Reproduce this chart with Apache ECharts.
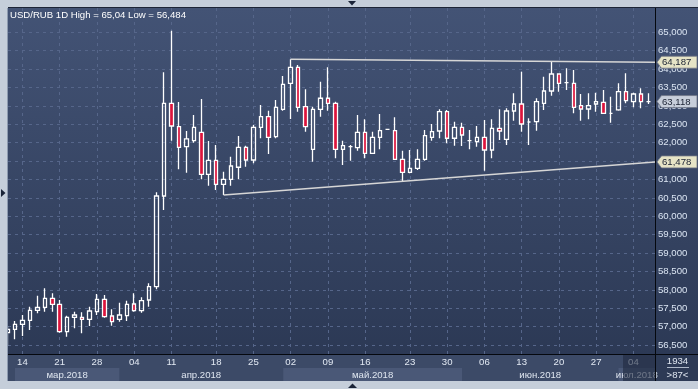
<!DOCTYPE html>
<html><head><meta charset="utf-8">
<script src="https://cdn.jsdelivr.net/npm/echarts@6/dist/echarts.min.js"></script>
<style>html,body{margin:0;padding:0;background:#c5ceda;}#c{width:698px;height:389px;}</style>
</head><body><div id="c"></div>
<script>
// ---------- data ----------
const dates = [
'2018-03-12','2018-03-13','2018-03-14','2018-03-15','2018-03-16','2018-03-19','2018-03-20','2018-03-21','2018-03-22','2018-03-23',
'2018-03-26','2018-03-27','2018-03-28','2018-03-29','2018-03-30','2018-04-02','2018-04-03','2018-04-04','2018-04-05','2018-04-06',
'2018-04-09','2018-04-10','2018-04-11','2018-04-12','2018-04-13','2018-04-15','2018-04-16','2018-04-17','2018-04-18','2018-04-19',
'2018-04-20','2018-04-23','2018-04-24','2018-04-25','2018-04-26','2018-04-27','2018-04-30','2018-05-01','2018-05-02','2018-05-03',
'2018-05-04','2018-05-07','2018-05-08','2018-05-09','2018-05-10','2018-05-11','2018-05-14','2018-05-15','2018-05-16','2018-05-17',
'2018-05-18','2018-05-20','2018-05-21','2018-05-22','2018-05-23','2018-05-24','2018-05-25','2018-05-28','2018-05-29','2018-05-30',
'2018-05-31','2018-06-01','2018-06-04','2018-06-05','2018-06-06','2018-06-07','2018-06-08','2018-06-11','2018-06-12','2018-06-13',
'2018-06-14','2018-06-15','2018-06-18','2018-06-19','2018-06-20','2018-06-21','2018-06-22','2018-06-25','2018-06-26','2018-06-27',
'2018-06-28','2018-06-29','2018-07-02','2018-07-03','2018-07-04','2018-07-05','2018-07-06'];

const openP = [
56.837,56.929,57.065,57.174,57.446,57.527,57.772,57.609,56.864,57.255,
57.255,57.201,57.408,57.745,57.291,57.201,57.299,57.617,57.435,57.726,
58.087,60.552,63.071,62.435,61.891,62.054,62.283,61.141,61.522,60.870,
61.005,61.332,61.875,61.530,62.418,62.707,62.163,62.908,63.614,64.049,
62.978,61.821,62.908,63.207,63.071,61.821,61.891,61.864,62.283,61.712,
62.147,62.364,62.326,61.549,61.196,61.304,61.549,62.147,62.318,62.842,
62.120,62.418,62.054,62.027,62.147,61.802,62.391,62.092,62.861,63.052,
62.562,62.571,63.071,63.405,63.867,63.630,63.614,63.005,62.916,63.052,
63.098,62.799,62.889,63.386,63.114,63.323,63.118];

const closeP = [
56.929,57.065,57.174,57.446,57.527,57.772,57.609,56.864,57.255,57.318,
57.201,57.427,57.745,57.272,57.136,57.318,57.609,57.435,57.707,58.087,
60.552,63.071,62.454,61.875,62.101,62.418,61.141,61.522,60.870,61.005,
61.367,61.875,61.530,62.418,62.707,62.147,62.962,63.587,64.049,62.962,
62.435,62.908,63.207,63.071,61.821,61.918,61.891,62.283,61.712,62.147,
62.326,62.364,61.549,61.196,61.304,61.549,62.190,62.299,62.842,62.120,
62.418,62.209,62.054,62.147,61.802,62.391,62.318,62.861,63.052,62.508,
62.562,63.114,63.405,63.867,63.614,63.630,62.962,62.916,63.005,63.114,
62.799,62.799,63.386,63.141,63.323,63.114,63.118];

const lowP = [
56.484,56.658,56.747,56.910,57.364,57.408,57.408,56.837,56.728,56.957,
56.821,57.019,57.318,57.245,57.027,57.136,57.155,57.408,57.380,57.543,
58.020,60.171,62.054,61.277,61.185,62.000,61.005,60.832,60.715,60.579,
60.832,61.005,61.348,61.440,62.120,61.693,62.120,62.870,62.644,62.842,
62.299,61.484,62.707,62.870,61.576,61.394,61.511,61.783,61.576,61.693,
61.821,62.364,61.530,60.940,61.168,61.258,61.511,62.054,62.120,61.984,
61.918,61.910,61.821,61.891,61.239,61.576,62.073,61.937,62.598,62.299,
61.937,62.326,62.889,63.277,63.386,63.432,62.799,62.598,62.636,62.842,
62.780,62.543,62.870,63.071,62.962,62.935,63.052];

const highP = [
57.020,57.155,57.318,57.543,57.842,58.043,57.908,57.726,57.299,57.408,
57.391,57.543,57.889,57.861,57.473,57.652,57.707,57.908,57.799,58.179,
60.652,63.913,65.040,63.106,62.318,62.753,63.187,62.046,61.937,61.212,
61.620,62.182,61.918,62.481,63.024,62.870,63.160,63.812,64.266,64.111,
63.451,62.978,63.658,64.049,63.114,62.054,61.937,62.753,62.636,62.299,
62.780,62.364,62.690,61.783,61.802,61.821,62.345,62.508,62.908,62.889,
62.571,62.543,62.345,62.454,62.617,62.636,62.908,62.935,63.342,63.929,
62.663,63.207,63.793,64.201,63.886,64.022,63.976,63.323,63.342,63.359,
63.432,63.250,63.614,63.886,63.359,63.478,63.342];

const dayTickIdx = [2,7,12,17,22,28,33,38,43,48,54,59,64,69,74,79,84];
const yTicks = [56.5,57,57.5,58,58.5,59,59.5,60,60.5,61,61.5,62,62.5,63,63.5,64,64.5,65];
const monthNames = {'03':'мар.2018','04':'апр.2018','05':'май.2018','06':'июн.2018','07':'июл.2018'};
const resistanceIdx = 38, resistanceEnd = 64.187;
const supportIdx = 29, supportEnd = 61.478;
const barsTotal = 1934;

// ---------- layout constants ----------
const X_MIN = 0.06, X_MAX = 86.9, Y_MIN = 56.258, Y_MAX = 65.66;
const FIRST_FULL_BAR = 1;
const FONT = 'Liberation Sans, Arial, sans-serif';
const FS = 9.6;
const fmt3 = v => v.toFixed(3).replace('.', ',');

const candleData = dates.map((d, i) => [i, openP[i], closeP[i], lowP[i], highP[i]]);

const monthStarts = [];
dates.forEach((d, i) => { if (i === 0 || d.slice(5,7) !== dates[i-1].slice(5,7)) monthStarts.push(i); });
monthStarts[0] = Math.max(monthStarts[0], FIRST_FULL_BAR);
const bandData = monthStarts.map((s, k) => [s, k + 1 < monthStarts.length ? monthStarts[k+1] : X_MAX, 0.5]);
const bandLabels = monthStarts.map(s => monthNames[dates[s].slice(5,7)]);

const tagData = [[X_MAX, resistanceEnd], [X_MAX, closeP[closeP.length-1]], [X_MAX, supportEnd]];
const tagFill = ['#e6e4c6', '#c7ceda', '#e6e4c6'];

const hi = Math.max(...highP), lo = Math.min(...lowP);
const titleText = 'USD/RUB 1D High = ' + String(hi).replace('.', ',') + ' Low = ' + String(lo).replace('.', ',');

const chart = echarts.init(document.getElementById('c'), null, {renderer: 'canvas'});

const gridLine = {show: true, lineStyle: {color: '#56668a', type: [3, 4], width: 1}};

chart.setOption({
  animation: false,
  title: {text: titleText, left: 10, top: 10.3, padding: 0,
    textStyle: {color: '#ffffff', fontSize: FS, fontWeight: 'normal', fontFamily: FONT}},
  grid: [
    {left: 8, right: 43, top: 8, bottom: 35},
    {left: 8, right: 43, top: 368, height: 13}
  ],
  xAxis: [
    {type: 'value', gridIndex: 0, min: X_MIN, max: X_MAX,
      axisLine: {show: false},
      axisTick: {show: false, customValues: dayTickIdx},
      axisLabel: {customValues: dayTickIdx, formatter: v => dates[Math.round(v)].slice(8, 10),
        color: '#e2e9f3', fontSize: FS, fontFamily: FONT, margin: 3.2},
      splitLine: gridLine},
    {type: 'value', gridIndex: 1, min: X_MIN, max: X_MAX, show: false}
  ],
  yAxis: [
    {type: 'value', gridIndex: 0, position: 'right', min: Y_MIN, max: Y_MAX,
      axisLine: {show: false},
      axisTick: {show: false, customValues: yTicks},
      axisLabel: {customValues: yTicks, formatter: v => fmt3(v), color: '#dbe5f3',
        fontSize: FS, fontFamily: FONT, margin: 3},
      splitLine: gridLine},
    {type: 'value', gridIndex: 1, min: 0, max: 1, show: false}
  ],
  series: [
    {type: 'candlestick', xAxisIndex: 0, yAxisIndex: 0, data: candleData, barWidth: 4,
      encode: {x: 0, y: [1, 2, 3, 4]},
      itemStyle: {color: 'rgba(0,0,0,0)', color0: '#dc143c', borderColor: '#ffffff', borderColor0: '#ffffff', borderWidth: 1.3},
      clip: true, z: 3},
    {type: 'line', xAxisIndex: 0, yAxisIndex: 0, data: [[resistanceIdx, highP[resistanceIdx]], [X_MAX, resistanceEnd]],
      symbol: 'none', lineStyle: {color: '#d6d6d6', width: 1.5}, z: 4, silent: true},
    {type: 'line', xAxisIndex: 0, yAxisIndex: 0, data: [[supportIdx, lowP[supportIdx]], [X_MAX, supportEnd]],
      symbol: 'none', lineStyle: {color: '#d6d6d6', width: 1.5}, z: 4, silent: true},
    {type: 'custom', xAxisIndex: 0, yAxisIndex: 0, data: tagData, z: 6, silent: true,
      renderItem: (params, api) => {
        const p = api.coord([api.value(0), api.value(1)]);
        const x = p[0], y = p[1], k = params.dataIndex;
        return {type: 'group', children: [
          {type: 'polygon', shape: {points: [[x + 2, y], [x + 6.5, y - 6], [x + 42, y - 6], [x + 42, y + 6], [x + 6.5, y + 6]]},
            style: {fill: tagFill[k], stroke: '#6e7584', lineWidth: 0.8}},
          {type: 'text', style: {text: fmt3(api.value(1)), x: x + 7, y: y + 0.5, verticalAlign: 'middle',
            fill: '#1a2132', font: FS + 'px ' + FONT}}
        ]};
      }},
    {type: 'custom', xAxisIndex: 1, yAxisIndex: 1, data: bandData, z: 2, silent: true, clip: false,
      renderItem: (params, api) => {
        const k = params.dataIndex;
        const x0 = api.coord([api.value(0), 0])[0];
        const x1 = api.coord([api.value(1), 0])[0];
        const cs = params.coordSys;
        return {type: 'group', children: [
          {type: 'rect', shape: {x: x0, y: cs.y, width: x1 - x0, height: cs.height},
            style: {fill: k % 2 === 0 ? '#4a5877' : 'rgba(0,0,0,0)'}},
          {type: 'text', style: {text: bandLabels[k], x: (x0 + x1) / 2, y: cs.y + cs.height / 2 + 0.5,
            align: 'center', verticalAlign: 'middle', fill: '#dfe6f0', font: FS + 'px ' + FONT}}
        ]};
      }}
  ],
  graphic: [
    {type: 'rect', z: -20, shape: {x: 0, y: 0, width: 698, height: 389}, style: {fill: '#c5ceda'}},
    {type: 'rect', z: -19, shape: {x: 8, y: 8, width: 690, height: 346},
      style: {fill: new echarts.graphic.LinearGradient(0, 0, 0, 1, [{offset: 0, color: '#435375'}, {offset: 1, color: '#2c3955'}])}},
    {type: 'rect', z: -19, shape: {x: 8, y: 354, width: 647, height: 27}, style: {fill: '#3c4a67'}},
    {type: 'rect', z: -19, shape: {x: 655, y: 354, width: 43, height: 27}, style: {fill: '#2d3a55'}},
    {type: 'rect', z: 8, shape: {x: 623, y: 355, width: 32, height: 26}, style: {fill: 'rgba(32,42,64,0.6)'}},
    {type: 'rect', z: 20, shape: {x: 0, y: 0, width: 8, height: 389}, style: {fill: '#c5ceda'}},
    {type: 'line', z: 21, shape: {x1: 8, y1: 7.5, x2: 698, y2: 7.5}, style: {stroke: '#1c2436', lineWidth: 1}},
    {type: 'line', z: 21, shape: {x1: 7.5, y1: 8, x2: 7.5, y2: 381}, style: {stroke: '#8e9bb0', lineWidth: 1}},
    {type: 'line', z: 21, shape: {x1: 655.5, y1: 8, x2: 655.5, y2: 381}, style: {stroke: '#05080e', lineWidth: 1}},
    {type: 'line', z: 21, shape: {x1: 8, y1: 354.5, x2: 698, y2: 354.5}, style: {stroke: '#05080e', lineWidth: 1}},
    {type: 'polygon', z: 21, shape: {points: [[348, 1], [356, 1], [352, 5.5]]}, style: {fill: '#1a2438'}},
    {type: 'polygon', z: 21, shape: {points: [[348, 388], [357, 388], [352.5, 383.5]]}, style: {fill: '#1a2438'}},
    {type: 'polygon', z: 21, shape: {points: [[1, 189], [1, 197], [5.5, 193]]}, style: {fill: '#1a2438'}},
    {type: 'text', z: 21, style: {text: String(barsTotal), x: 677.5, y: 361.5, align: 'center', verticalAlign: 'middle',
      fill: '#dfe6f0', font: FS + 'px ' + FONT}},
    {type: 'line', z: 21, shape: {x1: 667, y1: 367.5, x2: 689, y2: 367.5}, style: {stroke: '#aeb8c8', lineWidth: 1}},
    {type: 'text', z: 21, style: {text: '>' + dates.length + '<', x: 677.5, y: 375, align: 'center', verticalAlign: 'middle',
      fill: '#dfe6f0', font: FS + 'px ' + FONT}}
  ]
});
</script>
</body></html>
